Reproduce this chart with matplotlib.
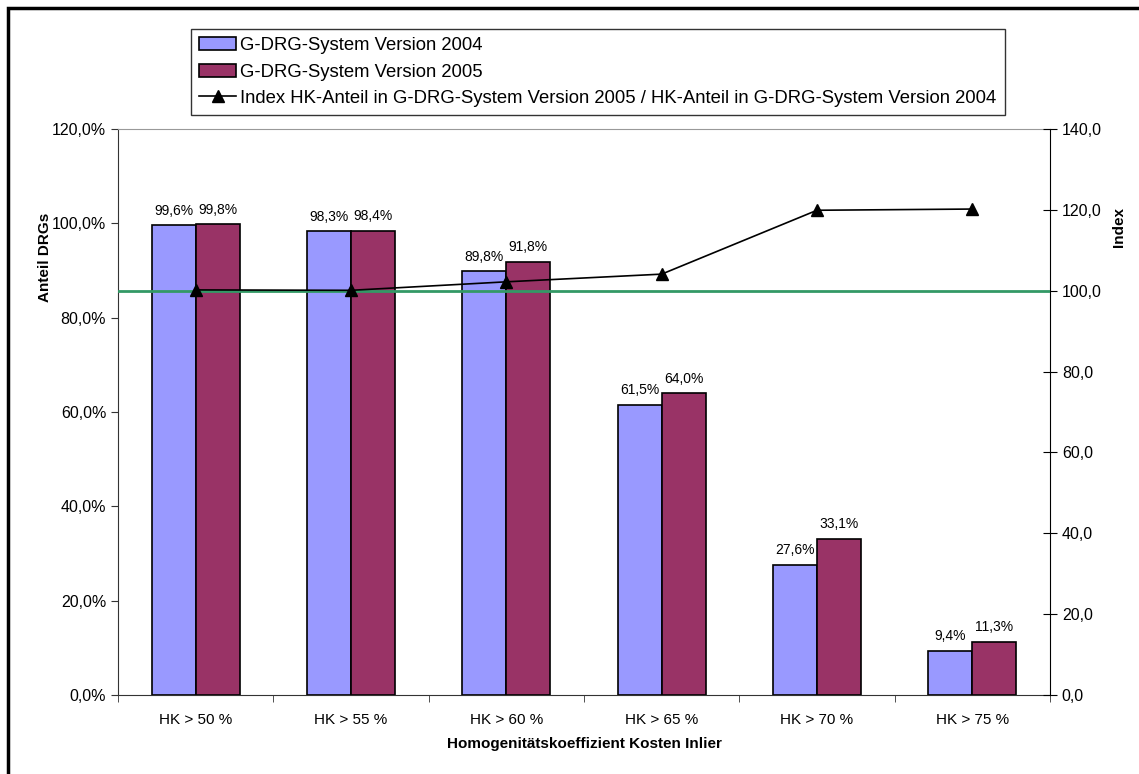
import matplotlib
matplotlib.use("Agg")
import matplotlib.pyplot as plt
import numpy as np
from matplotlib.lines import Line2D
from matplotlib.patches import Patch, Rectangle
from matplotlib.ticker import FuncFormatter, MultipleLocator

plt.rcParams['font.family'] = ['Liberation Sans', 'DejaVu Sans']

categories = ["HK > 50 %", "HK > 55 %", "HK > 60 %", "HK > 65 %", "HK > 70 %", "HK > 75 %"]
share_2004 = [99.6, 98.3, 89.8, 61.5, 27.6, 9.4]
share_2005 = [99.8, 98.4, 91.8, 64.0, 33.1, 11.3]
index_values = [100.2, 100.1, 102.2, 104.1, 119.9, 120.2]
reference_index = 100.0

label_2004 = "G-DRG-System Version 2004"
label_2005 = "G-DRG-System Version 2005"
label_index = "Index HK-Anteil in G-DRG-System Version 2005 / HK-Anteil in G-DRG-System Version 2004"

col_2004 = "#9999FF"
col_2005 = "#993366"
col_ref = "#339966"


def de(v, digits=1):
    return f"{v:.{digits}f}".replace(".", ",")


fig = plt.figure(figsize=(11.39, 7.74), dpi=100)
fig.patch.set_facecolor("white")

# outer chart frame (extends past the right/bottom edges)
fig.add_artist(Rectangle((8 / 1139, -0.05), 1.1, 1 - 8 / 774 + 0.05,
                         transform=fig.transFigure, fill=False,
                         edgecolor="black", linewidth=2.5))

ax = fig.add_axes([118 / 1139, 1 - 695 / 774, (1050 - 118) / 1139, (695 - 129) / 774])
x = np.arange(len(categories))
w = 0.283
b1 = ax.bar(x - w / 2, share_2004, w, color=col_2004, edgecolor="black", linewidth=1.2, zorder=2)
b2 = ax.bar(x + w / 2, share_2005, w, color=col_2005, edgecolor="black", linewidth=1.2, zorder=2)

for rect, v in list(zip(b1, share_2004)) + list(zip(b2, share_2005)):
    ax.text(rect.get_x() + rect.get_width() / 2, v + 1.6, de(v) + "%",
            ha="center", va="bottom", fontsize=10)

ax.set_xlim(-0.5, len(categories) - 0.5)
ax.set_ylim(0, 120)
ax.yaxis.set_major_locator(MultipleLocator(20))
ax.yaxis.set_major_formatter(FuncFormatter(lambda v, p: de(v) + "%"))
ax.set_xticks(x)
ax.set_xticklabels(categories, fontsize=11)
ax.set_xticks(np.arange(-0.5, len(categories), 1.0), minor=True)
ax.tick_params(axis="x", which="major", length=0, pad=13)
ax.tick_params(axis="x", which="minor", length=5, direction="out", color="#333333")
ax.tick_params(axis="y", length=5, direction="out", labelsize=11.5, color="#333333")
ax.set_ylabel("Anteil DRGs", fontsize=11, fontweight="bold")
ax.yaxis.set_label_coords(-0.0708, 0.774)
ax.set_xlabel("Homogenitätskoeffizient Kosten Inlier", fontsize=11, fontweight="bold", labelpad=7)
ax.spines["top"].set_color("#999999")
ax.spines["left"].set_color("#333333")
ax.spines["bottom"].set_color("#333333")
ax.spines["right"].set_visible(False)

ax2 = ax.twinx()
ax2.set_ylim(0, 140)
ax2.yaxis.set_major_locator(MultipleLocator(20))
ax2.yaxis.set_major_formatter(FuncFormatter(lambda v, p: de(v)))
ax2.tick_params(axis="y", length=10, direction="inout", labelsize=11.5)
ax2.axhline(reference_index, color=col_ref, linewidth=2.0, zorder=3)
ax2.plot(x, index_values, color="black", linewidth=1.2, marker="^", markersize=8, zorder=4)
ax2.set_ylabel("Index", fontsize=11, fontweight="bold")
ax2.yaxis.set_label_coords(1.0665, 0.827)
for s in ["top", "left", "bottom"]:
    ax2.spines[s].set_visible(False)
ax2.spines["right"].set_color("black")

handles = [Patch(facecolor=col_2004, edgecolor="black", linewidth=1.2),
           Patch(facecolor=col_2005, edgecolor="black", linewidth=1.2),
           Line2D([], [], color="black", linewidth=1.2, marker="^", markersize=8)]
leg = fig.legend(handles, [label_2004, label_2005, label_index],
                 loc="upper left", bbox_to_anchor=(191 / 1139, 1 - 29 / 774),
                 fontsize=13.3, frameon=True, fancybox=False, edgecolor="black",
                 handlelength=2.0, handletextpad=0.2, labelspacing=0.5,
                 borderpad=0.45, borderaxespad=0)
leg.get_frame().set_linewidth(1.0)

fig.savefig("out.png", dpi=100, facecolor="white")
